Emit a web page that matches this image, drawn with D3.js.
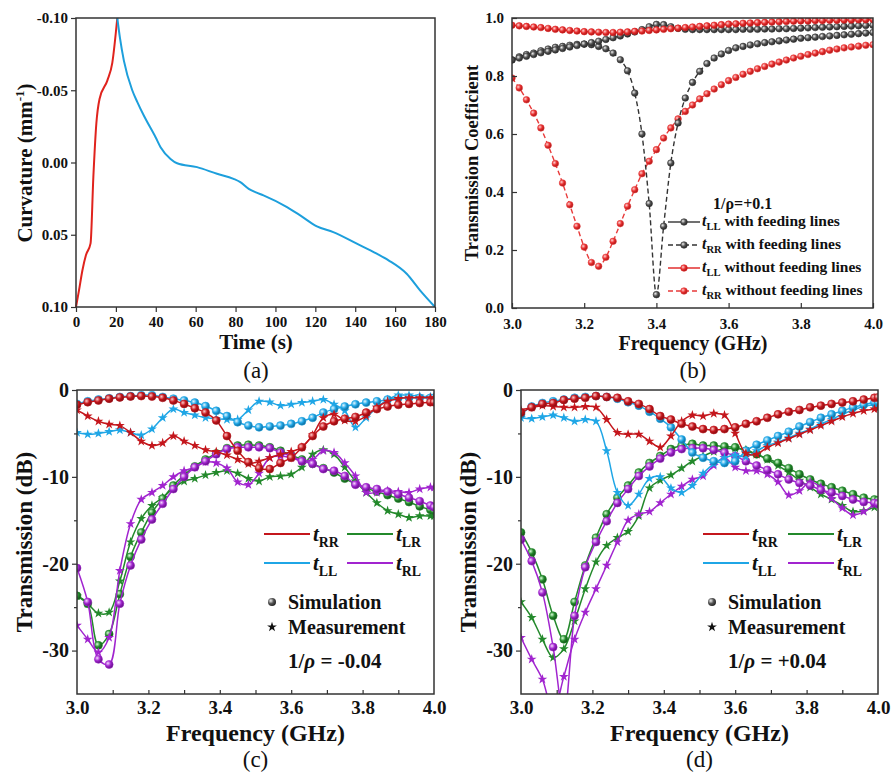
<!DOCTYPE html>
<html>
<head>
<meta charset="utf-8">
<script src="https://cdn.jsdelivr.net/npm/d3@7"></script>
<style>
body { margin: 0; background: #fff; }
svg text { font-family: "Liberation Serif", "Times New Roman", serif; }
</style>
</head>
<body>
<svg id="fig" width="891" height="779"></svg>
<script>
// ---- panel (a): curvature vs time ----
const timeRed = [0, 1.5, 3.2, 5, 7.3, 8.7, 10.2, 11.8, 15.7, 18.2, 20.7];
const curvRed = [0.10, 0.0885, 0.0747, 0.064, 0.056, 0.010, -0.027, -0.044, -0.0567, -0.069, -0.100];
const timeBlue = [20.7, 22, 24, 28.2, 30.7, 34, 39.9, 42.4, 47.4, 50.7, 60.7, 70.7, 79, 82.4, 86.6, 89.9, 94, 105.8, 112.4, 120.8, 129, 140.8, 150.8, 156.7, 165.8, 172.5, 180];
const curvBlue = [-0.100, -0.0866, -0.0705, -0.050, -0.042, -0.0325, -0.0175, -0.0106, -0.0025, 0.0005, 0.0032, 0.0078, 0.0113, 0.0136, 0.0182, 0.0205, 0.0228, 0.0309, 0.0366, 0.0442, 0.0482, 0.0562, 0.0631, 0.0677, 0.0770, 0.0885, 0.100];
const ticksTime = [0, 20, 40, 60, 80, 100, 120, 140, 160, 180];
const ticksCurv = [-0.10, -0.05, 0.00, 0.05, 0.10];

// ---- panel (b): transmission coefficient ----
const freqB = [3.00,3.02,3.04,3.06,3.08,3.10,3.12,3.14,3.16,3.18,3.20,3.22,3.24,3.26,3.28,3.30,3.32,3.34,3.36,3.38,3.40,3.42,3.44,3.46,3.48,3.50,3.52,3.54,3.56,3.58,3.60,3.62,3.64,3.66,3.68,3.70,3.72,3.74,3.76,3.78,3.80,3.82,3.84,3.86,3.88,3.90,3.92,3.94,3.96,3.98,4.00];
const bLLwith = [0.855,0.862,0.868,0.874,0.880,0.885,0.890,0.895,0.900,0.905,
  0.910,0.915,0.920,0.926,0.932,0.938,0.945,0.952,0.960,0.970,
  0.978,0.977,0.970,0.964,0.961,0.960,0.960,0.960,0.960,0.960,
  0.960,0.960,0.961,0.961,0.961,0.962,0.962,0.963,0.963,0.964,
  0.965,0.966,0.967,0.968,0.969,0.970,0.971,0.972,0.973,0.974,0.975];
const bRRwith = [0.856,0.866,0.874,0.879,0.887,0.893,0.899,0.902,0.906,0.909,
  0.910,0.908,0.902,0.894,0.879,0.856,0.818,0.741,0.600,0.360,
  0.046,0.282,0.500,0.638,0.724,0.778,0.816,0.843,0.862,0.876,
  0.888,0.897,0.902,0.907,0.911,0.915,0.918,0.921,0.924,0.927,
  0.930,0.932,0.934,0.936,0.938,0.940,0.942,0.944,0.946,0.948,0.950];
const bLLwithout = [0.975,0.973,0.971,0.969,0.967,0.964,0.961,0.959,0.957,0.955,
  0.953,0.952,0.951,0.950,0.950,0.951,0.952,0.954,0.955,0.957,
  0.959,0.961,0.963,0.965,0.967,0.969,0.971,0.973,0.975,0.977,
  0.979,0.980,0.982,0.983,0.984,0.985,0.986,0.987,0.988,0.989,
  0.990,0.990,0.991,0.991,0.992,0.992,0.993,0.993,0.994,0.994,0.995];
const bRRwithout = [0.793,0.759,0.718,0.672,0.621,0.561,0.498,0.431,0.356,0.282,
  0.210,0.157,0.144,0.175,0.230,0.291,0.351,0.408,0.463,0.506,
  0.546,0.586,0.621,0.652,0.678,0.700,0.721,0.739,0.755,0.770,
  0.784,0.795,0.806,0.816,0.825,0.833,0.841,0.848,0.855,0.862,
  0.868,0.874,0.879,0.884,0.889,0.893,0.897,0.900,0.903,0.906,0.908];
const ticksFreqB = [3.0, 3.2, 3.4, 3.6, 3.8, 4.0];
const ticksCoef = [0.0, 0.2, 0.4, 0.6, 0.8, 1.0];

// ---- panels (c) and (d): transmission in dB ----
const freqCD = [3.00,3.03,3.06,3.09,3.12,3.15,3.18,3.21,3.24,3.27,3.30,3.33,3.36,3.39,3.42,3.45,3.48,3.51,3.54,3.57,3.60,3.63,3.66,3.69,3.72,3.75,3.78,3.81,3.84,3.87,3.90,3.93,3.96,3.99,4.00];

const cRRsim = [-1.7,-1.4,-1.2,-1.0,-0.85,-0.75,-0.7,-0.75,-0.9,-1.2,-1.6,-2.1,-2.6,-3.5,-5.3,-7.0,-8.3, -9.0,-9.1,-8.4,-7.8,-6.6,-5.3,-4.2,-3.6,-3.3,-3.1,-2.6,-2.2,-1.9,-1.7,-1.6,-1.5,-1.4,-1.4];
const cRRmeas = [-2.3,-3.0,-3.6,-3.95,-4.1,-4.9,-5.9,-6.4,-6.1,-5.3,-5.9,-6.4,-6.9,-7.1,-7.5,-8.0,-8.5, -8.2,-7.8,-7.4,-7.1,-6.6,-5.2,-3.2,-2.8,-3.5,-3.6,-3.0,-2.0,-1.3,-1.0,-0.9,-0.9,-0.9,-0.9];
const cLLsim = [-1.6,-1.3,-1.1,-0.95,-0.8,-0.7,-0.6,-0.6,-0.8,-1.0,-1.2,-1.45,-1.85,-2.4,-3.0,-3.7,-4.1, -4.3,-4.2,-4.1,-3.9,-3.6,-3.2,-2.6,-2.2,-1.9,-1.65,-1.45,-1.3,-1.1,-0.9,-0.9,-0.9,-0.9,-0.9];
const cLLmeas = [-4.9,-5.1,-5.0,-4.8,-4.6,-4.9,-5.2,-4.5,-3.2,-2.2,-2.6,-2.9,-3.2,-3.3,-3.4,-3.4,-2.3, -1.3,-1.4,-1.8,-1.65,-1.45,-1.3,-1.1,-1.65,-2.4,-4.3,-3.2,-2.0,-1.1,-0.6,-0.6,-0.7,-0.8,-0.8];
const cLRsim = [-23.7,-24.6,-29.4,-28.1,-23.5,-19.2,-16.4,-14.1,-12.5,-11.0,-9.8,-8.8,-8.0,-7.3,-6.7,-6.4,-6.3, -6.4,-6.6,-7.0,-7.5,-8.0,-8.5,-9.0,-9.5,-10.2,-10.8,-11.3,-11.7,-12.1,-12.5,-12.9,-13.4,-13.8,-13.9];
const cLRmeas = [-23.7,-24.6,-25.7,-25.6,-22.0,-17.5,-14.8,-13.3,-12.4,-11.3,-10.5,-10.2,-9.8,-9.5,-9.3,-9.6,-10.2, -10.5,-10.0,-9.9,-9.7,-8.9,-7.4,-6.9,-7.4,-8.9,-10.5,-11.8,-13.0,-13.9,-14.3,-14.7,-14.5,-14.5,-14.5];
const cRLsim = [-20.5,-24.4,-31.0,-31.6,-24.6,-20.2,-17.2,-14.9,-13.1,-11.4,-10.0,-8.9,-8.2,-7.4,-6.8,-6.6,-6.6, -6.6,-6.7,-7.2,-7.6,-8.2,-8.5,-9.1,-9.3,-9.9,-10.9,-11.2,-11.4,-11.7,-12.0,-12.4,-12.8,-13.3,-13.5];
const cRLmeas = [-27.1,-28.7,-30.2,-28.5,-20.8,-15.4,-12.6,-11.8,-11.0,-10.0,-9.3,-8.9,-8.3,-8.4,-9.0,-10.6,-10.9, -9.6,-7.8,-7.6,-7.8,-8.2,-8.0,-7.0,-7.2,-8.4,-9.9,-11.8,-11.8,-11.6,-11.7,-11.8,-11.4,-11.2,-11.2];

const dRRsim = [-2.6,-2.0,-1.6,-1.5,-1.15,-1.0,-0.9,-0.7,-0.8,-0.9,-1.3,-1.6,-2.2,-3.0,-3.4,-3.9,-4.2, -4.5,-4.6,-4.5,-4.3,-3.9,-3.6,-3.2,-2.8,-2.5,-2.3,-2.0,-1.8,-1.6,-1.45,-1.3,-1.1,-0.9,-0.85];
const dRRmeas = [-2.3,-2.0,-1.8,-1.9,-2.0,-2.0,-1.9,-2.0,-3.4,-4.9,-5.1,-5.1,-5.9,-6.6,-5.3,-3.6,-2.9, -3.0,-2.7,-2.9,-5.0,-7.3,-7.4,-6.6,-6.1,-5.6,-5.1,-4.6,-4.1,-3.6,-3.1,-2.7,-2.4,-2.2,-2.1];
const dLLsim = [-2.8,-1.9,-1.5,-1.3,-1.1,-0.9,-0.8,-0.7,-0.8,-1.0,-1.4,-1.8,-2.5,-3.3,-4.3,-5.7,-7.2, -7.8,-8.2,-8.4,-8.2,-7.0,-6.3,-5.8,-5.3,-4.8,-4.2,-3.7,-3.2,-2.8,-2.4,-2.0,-1.7,-1.45,-1.4];
const dLLmeas = [-3.2,-3.3,-3.1,-2.9,-3.2,-3.6,-3.4,-3.6,-7.0,-11.8,-13.3,-12.0,-10.2,-10.0,-11.3,-11.8,-11.0, -9.6,-8.5,-7.8,-7.5,-7.7,-7.0,-6.4,-6.0,-5.5,-5.0,-4.5,-3.9,-3.4,-2.8,-2.3,-1.9,-1.7,-1.6];
const dLRsim = [-16.4,-18.7,-21.8,-26.0,-28.7,-24.4,-20.2,-17.0,-14.3,-12.4,-11.0,-9.5,-8.4,-7.6,-6.8,-6.4,-6.2, -6.4,-6.4,-6.5,-6.6,-7.0,-7.4,-7.9,-8.4,-9.0,-9.7,-10.3,-10.8,-11.2,-11.6,-12.0,-12.4,-12.6,-12.7];
const dLRmeas = [-24.4,-26.2,-28.7,-30.8,-29.8,-26.6,-22.9,-19.8,-17.9,-17.0,-16.3,-14.5,-11.3,-10.4,-9.8,-9.0,-8.2, -7.6,-7.1,-6.8,-6.7,-6.9,-7.4,-8.0,-8.7,-9.5,-10.4,-11.2,-12.0,-12.6,-13.3,-14.0,-13.9,-13.5,-13.3];
const dRLsim = [-17.2,-19.7,-23.3,-29.6,-37.5,-26.0,-20.4,-17.5,-15.1,-13.0,-11.4,-9.9,-8.8,-7.9,-7.2,-6.8,-6.7, -6.7,-6.9,-7.2,-7.6,-8.2,-8.7,-9.2,-9.7,-10.3,-10.7,-11.0,-11.5,-11.8,-12.2,-12.6,-12.9,-13.0,-13.1];
const dRLmeas = [-28.5,-31.0,-33.3,-37.0,-33.0,-28.7,-25.6,-22.9,-20.2,-17.5,-15.0,-14.3,-14.0,-13.0,-12.0,-11.1,-10.3, -9.9,-8.7,-7.8,-8.9,-9.3,-9.3,-9.7,-10.6,-12.1,-11.6,-10.6,-11.2,-12.5,-13.6,-14.4,-14.0,-13.2,-13.1];

const ticksFreqCD = [3.0, 3.2, 3.4, 3.6, 3.8, 4.0];
const minorFreqCD = [3.1, 3.2, 3.3, 3.4, 3.5, 3.6, 3.7, 3.8, 3.9];
const ticksDB = [0, -10, -20, -30];
const minorDB = [-5, -15, -25];

const COLORS = { RR: '#c4161c', LR: '#23892b', LL: '#1fa6e6', RL: '#a124cf' };
const SERIF = '"Liberation Serif", "Times New Roman", serif';

var svg = d3.select('#fig');
var defs = svg.append('defs');

function sphere(id, light, mid, dark) {
    var g = defs.append('radialGradient').attr('id', id)
        .attr('cx', '35%').attr('cy', '35%').attr('r', '70%');
    g.append('stop').attr('offset', '0%').attr('stop-color', light);
    g.append('stop').attr('offset', '50%').attr('stop-color', mid);
    g.append('stop').attr('offset', '100%').attr('stop-color', dark);
}
sphere('sp-black', '#f0f0f0', '#555', '#222');
sphere('sp-red', '#ffd0d0', '#e83030', '#a01010');
sphere('sp-RR', '#ffc8c8', COLORS.RR, '#7a0a0e');
sphere('sp-LR', '#d8ffd8', COLORS.LR, '#0e4a14');
sphere('sp-LL', '#e0f6ff', COLORS.LL, '#0d5f8a');
sphere('sp-RL', '#f6d8ff', COLORS.RL, '#5a0f78');

function clip(id, x0, y0, x1, y1) {
    defs.append('clipPath').attr('id', id).append('rect')
        .attr('x', x0).attr('y', y0).attr('width', x1 - x0).attr('height', y1 - y0);
}

function frame(x0, y0, x1, y1) {
    svg.append('rect').attr('x', x0).attr('y', y0).attr('width', x1 - x0).attr('height', y1 - y0)
        .attr('fill', 'none').attr('stroke', '#333').attr('stroke-width', 1.5);
}

function styleAxis(g, size) {
    g.attr('font-family', SERIF).attr('font-size', size).attr('font-weight', 'bold');
    g.select('.domain').remove();
    g.selectAll('line').attr('stroke', '#333').attr('stroke-width', 1.2);
    g.selectAll('text').attr('fill', '#111');
}

function label(x, y, txt, size, weight, rotate) {
    var t = svg.append('text').attr('text-anchor', 'middle')
        .attr('font-size', size).attr('font-weight', weight || 'bold').attr('fill', '#111');
    if (rotate) {
        t.attr('transform', 'translate(' + x + ',' + y + ') rotate(-90)').attr('dy', '0.35em');
    } else {
        t.attr('x', x).attr('y', y);
    }
    t.text(txt);
    return t;
}

// t with subscript, optional trailing text
function tSub(g, x, y, sub, size, rest, restSize) {
    var t = g.append('text').attr('x', x).attr('y', y).attr('font-weight', 'bold')
        .attr('font-size', size).attr('fill', '#111');
    t.append('tspan').attr('font-style', 'italic').text('t');
    t.append('tspan').attr('font-size', size * 0.66).attr('dy', size * 0.28).text(sub);
    if (rest) t.append('tspan').attr('font-size', restSize).attr('dy', -size * 0.28).text(rest);
    return t;
}

// ================= (a) =================
(function () {
    var x0 = 76, x1 = 435, y0 = 18, y1 = 307;
    var x = d3.scaleLinear([0, 180], [x0, x1]);
    var y = d3.scaleLinear([-0.10, 0.10], [y0, y1]);

    var line = d3.line().x(d => x(d[0])).y(d => y(d[1])).curve(d3.curveMonotoneX);
    svg.append('path').datum(d3.zip(timeRed, curvRed)).attr('d', line)
        .attr('fill', 'none').attr('stroke', '#e0231d').attr('stroke-width', 2);
    svg.append('path').datum(d3.zip(timeBlue, curvBlue)).attr('d', line)
        .attr('fill', 'none').attr('stroke', '#1d9fdc').attr('stroke-width', 2);

    frame(x0, y0, x1, y1);
    var ax = svg.append('g').attr('transform', 'translate(0,' + y1 + ')')
        .call(d3.axisBottom(x).tickValues(ticksTime).tickSize(5).tickPadding(4));
    styleAxis(ax, 15);
    var ay = svg.append('g').attr('transform', 'translate(' + x0 + ',0)')
        .call(d3.axisLeft(y).tickValues(ticksCurv).tickSize(5).tickPadding(3).tickFormat(d => d.toFixed(2)));
    styleAxis(ay, 15);

    label(256, 349, 'Time (s)', 21);
    var yl = label(25, 163, '', 21, 'bold', true);
    yl.append('tspan').text('Curvature (mm');
    yl.append('tspan').attr('font-size', 13).attr('dy', -8).text('-1');
    yl.append('tspan').attr('dy', 8).text(')');
    label(256, 378, '(a)', 23, 'normal');
})();

// ================= (b) =================
(function () {
    var x0 = 512, x1 = 873, y0 = 18, y1 = 308;
    var x = d3.scaleLinear([3, 4], [x0, x1]);
    var y = d3.scaleLinear([0, 1], [y1, y0]);
    clip('clip-b', x0, y0, x1, y1);
    var plot = svg.append('g').attr('clip-path', 'url(#clip-b)');

    var series = [
        { vals: bRRwithout, color: '#e83a3a', dash: '5,3', fill: 'url(#sp-red)' },
        { vals: bRRwith, color: '#333', dash: '5,3', fill: 'url(#sp-black)' },
        { vals: bLLwith, color: '#333', dash: null, fill: 'url(#sp-black)' },
        { vals: bLLwithout, color: '#e02020', dash: null, fill: 'url(#sp-red)' }
    ];
    var line = d3.line().x((d, i) => x(freqB[i])).y(d => y(d)).curve(d3.curveMonotoneX);
    series.forEach(function (s) {
        plot.append('path').datum(s.vals).attr('d', line).attr('fill', 'none')
            .attr('stroke', s.color).attr('stroke-width', 1.4).attr('stroke-dasharray', s.dash);
        plot.append('g').selectAll('circle').data(s.vals).enter().append('circle')
            .attr('cx', (d, i) => x(freqB[i])).attr('cy', d => y(d)).attr('r', 3.3)
            .attr('fill', s.fill).attr('stroke', s.color).attr('stroke-width', 0.6);
    });

    frame(x0, y0, x1, y1);
    var ax = svg.append('g').attr('transform', 'translate(0,' + y1 + ')')
        .call(d3.axisBottom(x).tickValues(ticksFreqB).tickSize(-5).tickPadding(10).tickFormat(d3.format('.1f')));
    styleAxis(ax, 15);
    var ay = svg.append('g').attr('transform', 'translate(' + x0 + ',0)')
        .call(d3.axisLeft(y).tickValues(ticksCoef).tickSize(-5).tickPadding(8).tickFormat(d3.format('.1f')));
    styleAxis(ay, 15);

    label(693, 350, 'Frequency (GHz)', 20);
    label(472, 163, 'Transmission Coefficient', 18.5, 'bold', true);
    label(693, 378, '(b)', 23, 'normal');

    // legend
    var lg = svg.append('g');
    lg.append('text').attr('x', 713).attr('y', 209).attr('font-size', 16).attr('font-weight', 'bold')
        .attr('fill', '#111').text('1/\u03c1=+0.1');
    var rows = [
        { sub: 'LL', rest: ' with feeding lines', s: series[2] },
        { sub: 'RR', rest: ' with feeding lines', s: series[1] },
        { sub: 'LL', rest: ' without feeding lines', s: series[3] },
        { sub: 'RR', rest: ' without feeding lines', s: series[0] }
    ];
    rows.forEach(function (r, i) {
        var yy = 222 + i * 23;
        lg.append('line').attr('x1', 668).attr('x2', 700).attr('y1', yy).attr('y2', yy)
            .attr('stroke', r.s.color).attr('stroke-width', 1.4).attr('stroke-dasharray', r.s.dash);
        lg.append('circle').attr('cx', 684).attr('cy', yy).attr('r', 3.3)
            .attr('fill', r.s.fill).attr('stroke', r.s.color).attr('stroke-width', 0.6);
        tSub(lg, 702, yy + 4, r.sub, 16, r.rest, 15.5);
    });
})();

// ================= (c), (d) =================
function panelCD(p) {
    var x = d3.scaleLinear([3, 4], [p.x0, p.x1]);
    var y = d3.scaleLinear([0, -35], [p.y0, p.y1]);
    clip('clip-' + p.id, p.x0, p.y0, p.x1, p.y1);
    var plot = svg.append('g').attr('clip-path', 'url(#clip-' + p.id + ')');
    var line = d3.line().x((d, i) => x(freqCD[i])).y(d => y(d)).curve(d3.curveCatmullRom.alpha(0.5));
    var star = d3.symbol().type(d3.symbolStar).size(30);

    p.series.forEach(function (s) {
        var c = COLORS[s.key];
        plot.append('path').datum(s.meas).attr('d', line).attr('fill', 'none')
            .attr('stroke', c).attr('stroke-width', 1.5);
        plot.append('g').selectAll('path').data(s.meas).enter().append('path')
            .attr('d', star).attr('fill', c)
            .attr('transform', (d, i) => 'translate(' + x(freqCD[i]) + ',' + y(d) + ')');
        plot.append('path').datum(s.sim).attr('d', line).attr('fill', 'none')
            .attr('stroke', c).attr('stroke-width', 1.5);
        plot.append('g').selectAll('circle').data(s.sim).enter().append('circle')
            .attr('cx', (d, i) => x(freqCD[i])).attr('cy', d => y(d)).attr('r', 4)
            .attr('fill', 'url(#sp-' + s.key + ')').attr('stroke', c).attr('stroke-width', 0.6);
    });

    frame(p.x0, p.y0, p.x1, p.y1);
    var ax = svg.append('g').attr('transform', 'translate(0,' + p.y1 + ')')
        .call(d3.axisBottom(x).tickValues(ticksFreqCD).tickSize(0).tickPadding(7).tickFormat(d3.format('.1f')));
    styleAxis(ax, 19);
    var axm = svg.append('g').attr('transform', 'translate(0,' + p.y1 + ')')
        .call(d3.axisBottom(x).tickValues(minorFreqCD).tickSize(-4).tickFormat(''));
    styleAxis(axm, 10);
    var ay = svg.append('g').attr('transform', 'translate(' + p.x0 + ',0)')
        .call(d3.axisLeft(y).tickValues(ticksDB).tickSize(5).tickPadding(3).tickFormat(d => String(d)));
    styleAxis(ay, 20);
    var aym = svg.append('g').attr('transform', 'translate(' + p.x0 + ',0)')
        .call(d3.axisLeft(y).tickValues(minorDB).tickSize(3).tickFormat(''));
    styleAxis(aym, 10);

    label((p.x0 + p.x1) / 2, 741, 'Frequency (GHz)', 24);
    label(p.ylx, 542, 'Transmission (dB)', 23, 'bold', true);
    label((p.x0 + p.x1) / 2, 767, p.tag, 23, 'normal');

    // legend
    var lg = svg.append('g');
    var L = p.leg;
    [['RR', L.c1, 534], ['LR', L.c2, 534], ['LL', L.c1, 563], ['RL', L.c2, 563]].forEach(function (r) {
        lg.append('line').attr('x1', r[1]).attr('x2', r[1] + 46).attr('y1', r[2]).attr('y2', r[2])
            .attr('stroke', COLORS[r[0]]).attr('stroke-width', 2);
        tSub(lg, r[1] + 49, r[2] + 7, r[0], 21);
    });
    lg.append('circle').attr('cx', L.m).attr('cy', 602).attr('r', 4).attr('fill', 'url(#sp-black)');
    lg.append('text').attr('x', L.m + 16).attr('y', 609).attr('font-size', 20).attr('font-weight', 'bold')
        .attr('fill', '#111').text('Simulation');
    lg.append('path').attr('d', d3.symbol().type(d3.symbolStar).size(30))
        .attr('transform', 'translate(' + L.m + ',627)').attr('fill', '#111');
    lg.append('text').attr('x', L.m + 16).attr('y', 634).attr('font-size', 20).attr('font-weight', 'bold')
        .attr('fill', '#111').text('Measurement');
    var rt = lg.append('text').attr('x', L.m + 16).attr('y', 668).attr('font-size', 21).attr('font-weight', 'bold')
        .attr('fill', '#111');
    rt.append('tspan').text('1/');
    rt.append('tspan').attr('font-style', 'italic').text('\u03c1');
    rt.append('tspan').text(p.rho);
}

panelCD({
    id: 'c', tag: '(c)', x0: 77, x1: 434, y0: 390, y1: 694, ylx: 24, rho: ' = -0.04',
    leg: { c1: 264, c2: 347, m: 272 },
    series: [
        { key: 'LR', sim: cLRsim, meas: cLRmeas },
        { key: 'RL', sim: cRLsim, meas: cRLmeas },
        { key: 'LL', sim: cLLsim, meas: cLLmeas },
        { key: 'RR', sim: cRRsim, meas: cRRmeas }
    ]
});
panelCD({
    id: 'd', tag: '(d)', x0: 521, x1: 878, y0: 390, y1: 694, ylx: 468, rho: ' = +0.04',
    leg: { c1: 703, c2: 788, m: 712 },
    series: [
        { key: 'LR', sim: dLRsim, meas: dLRmeas },
        { key: 'RL', sim: dRLsim, meas: dRLmeas },
        { key: 'LL', sim: dLLsim, meas: dLLmeas },
        { key: 'RR', sim: dRRsim, meas: dRRmeas }
    ]
});
</script>
</body>
</html>
